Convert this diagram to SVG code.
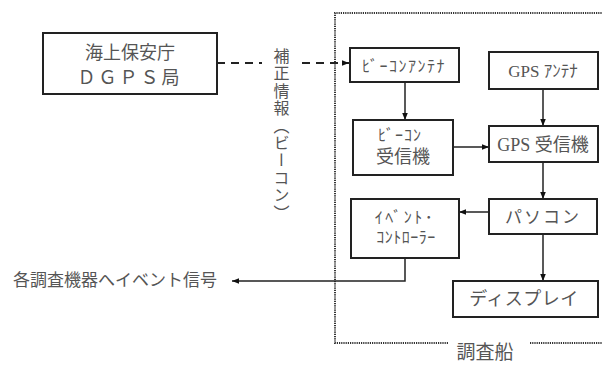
<svg xmlns="http://www.w3.org/2000/svg" width="602" height="365" viewBox="0 0 602 365">
<defs>
<style>
.box{fill:#fff;stroke:#222;stroke-width:2}
.t{font-family:"Liberation Serif","Noto Sans CJK JP",serif;fill:#555;text-anchor:middle;dominant-baseline:central}
.ln{fill:none;stroke:#222;stroke-width:1.5}
.dash{fill:none;stroke:#222;stroke-width:1.8;stroke-dasharray:8 6}
.dot{fill:none;stroke:#333;stroke-width:2;stroke-dasharray:1.2 1}
</style>
<marker id="ah" viewBox="0 0 10 10" refX="10" refY="5" markerWidth="7" markerHeight="7" orient="auto" markerUnits="userSpaceOnUse">
<path d="M0,1 L10,5 L0,9 z" fill="#111"/>
</marker>
</defs>
<rect width="602" height="365" fill="#fff"/>
<g id="ship">
<path class="dot" d="M448,343 H335 V13 H602"/>
<path class="dot" d="M530,343 H602"/>
<text class="t" x="485" y="352" font-size="19">調査船</text>
</g>
<g id="connectors">
<path class="dash" d="M217,63 H262"/>
<path class="dash" d="M302,63 H349" marker-end="url(#ah)"/>
<path class="ln" d="M405,82 V120" marker-end="url(#ah)"/>
<path class="ln" d="M543,89 V126" marker-end="url(#ah)"/>
<path class="ln" d="M453,147 H489" marker-end="url(#ah)"/>
<path class="ln" d="M543,162 V199" marker-end="url(#ah)"/>
<path class="ln" d="M489,212 H459" marker-end="url(#ah)"/>
<path class="ln" d="M543,234 V281" marker-end="url(#ah)"/>
<path class="ln" d="M405,258 V281 H232" marker-end="url(#ah)"/>
</g>
<g id="label-correction">
<text x="280" y="48" font-size="16" style="writing-mode:vertical-rl;letter-spacing:1.4px" font-family="Liberation Serif, Noto Sans CJK JP, serif" fill="#555">補正情報（ビーコン）</text>
</g>
<g id="dgps">
<rect class="box" x="43" y="33" width="174" height="61"/>
<text class="t" x="130" y="53" font-size="18">海上保安庁</text>
<text class="t" x="130" y="78" font-size="18" letter-spacing="3">ＤＧＰＳ局</text>
</g>
<g id="beacon-antenna">
<rect class="box" x="350" y="48" width="109" height="34"/>
<text class="t" x="404" y="66" font-size="16" letter-spacing="1.5">ﾋﾞｰｺﾝｱﾝﾃﾅ</text>
</g>
<g id="gps-antenna">
<rect class="box" x="489" y="52" width="109" height="37"/>
<text class="t" x="543" y="71" font-size="17">GPS ｱﾝﾃﾅ</text>
</g>
<g id="beacon-receiver">
<rect class="box" x="353" y="120" width="100" height="55"/>
<text class="t" x="400" y="135" font-size="16" letter-spacing="1">ﾋﾞｰｺﾝ</text>
<text class="t" x="403" y="157" font-size="18">受信機</text>
</g>
<g id="gps-receiver">
<rect class="box" x="489" y="126" width="109" height="36"/>
<text class="t" x="543" y="145" font-size="18">GPS 受信機</text>
</g>
<g id="pc">
<rect class="box" x="489" y="199" width="108" height="35"/>
<text class="t" x="543" y="217" font-size="17" letter-spacing="2">パソコン</text>
</g>
<g id="event-controller">
<rect class="box" x="351" y="199" width="108" height="59"/>
<text class="t" x="405" y="217" font-size="16" letter-spacing="2.5">ｲﾍﾞﾝﾄ･</text>
<text class="t" x="406" y="237" font-size="16" letter-spacing="0.5">ｺﾝﾄﾛｰﾗｰ</text>
</g>
<g id="display">
<rect class="box" x="453" y="281" width="145" height="36"/>
<text class="t" x="524" y="299" font-size="18" letter-spacing="0.5">ディスプレイ</text>
</g>
<g id="event-signal">
<text class="t" x="115" y="280" font-size="17">各調査機器へイベント信号</text>
</g>
</svg>
